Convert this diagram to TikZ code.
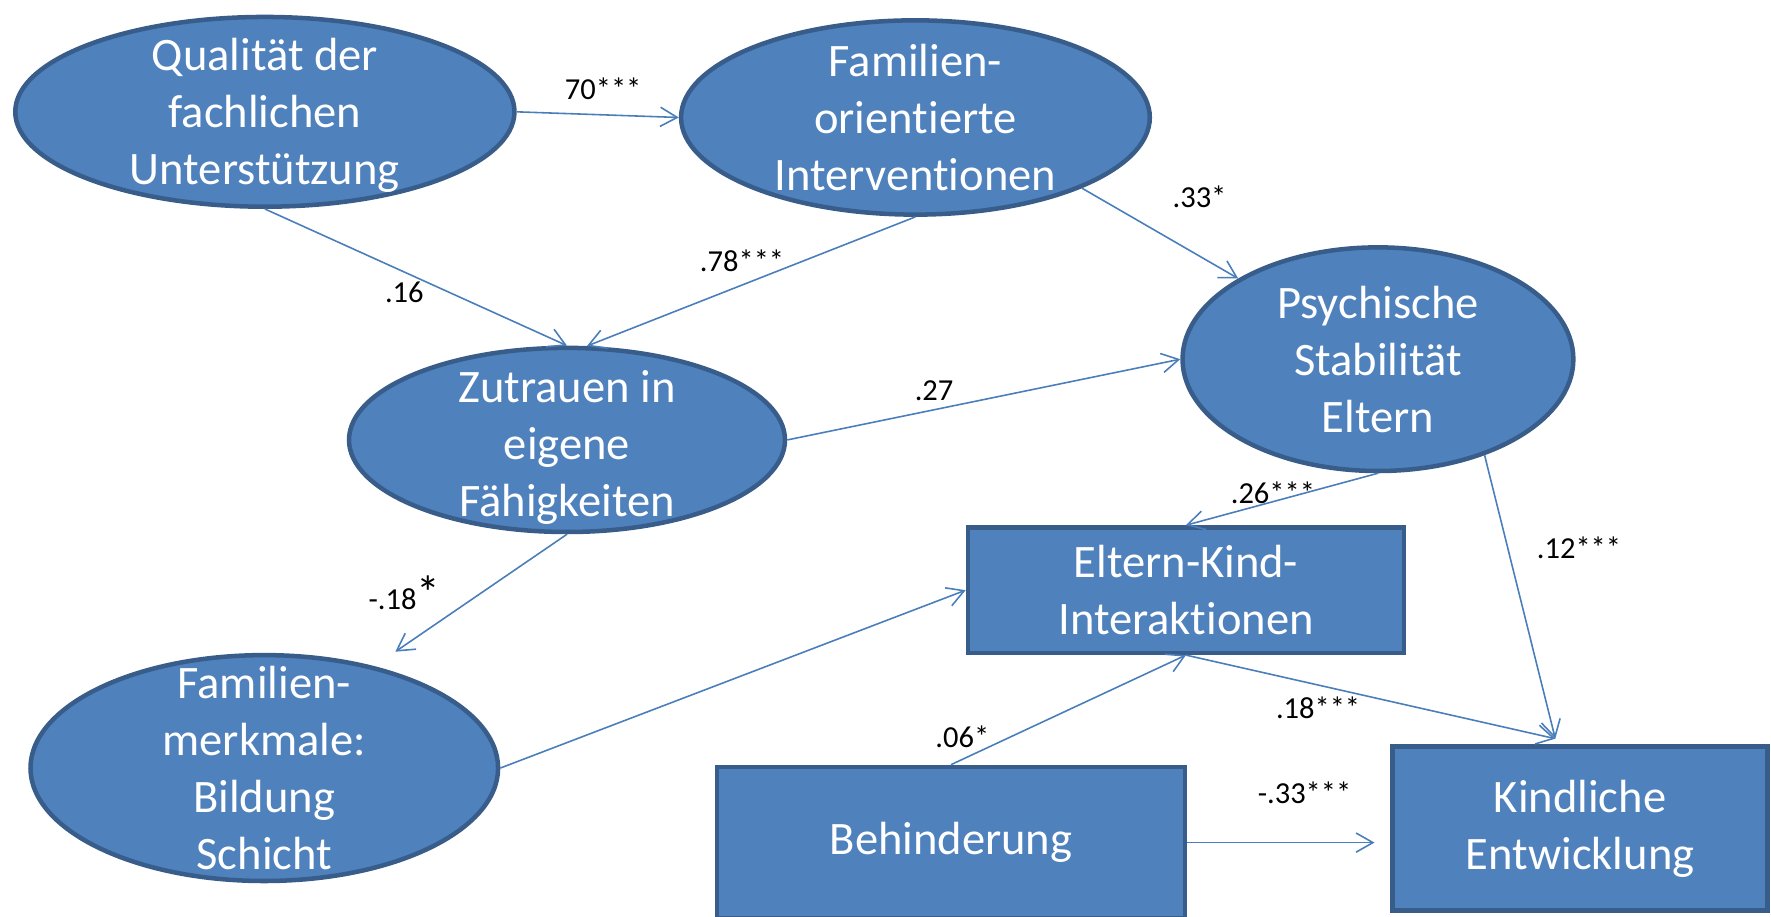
\documentclass[tikz,border=0pt]{standalone}
\usepackage{fontspec}
\setmainfont{Carlito}[Ligatures={NoCommon}]
\usetikzlibrary{arrows.meta,shapes.geometric,calc}
\definecolor{fillblue}{HTML}{4F81BD}
\definecolor{edgeblue}{HTML}{385D8A}
\definecolor{lineblue}{HTML}{4A7EBB}
\begin{document}
\begin{tikzpicture}[x=0.5pt,y=-0.5pt,
  ell/.style={ellipse, draw=edgeblue, fill=fillblue, line width=2pt, inner sep=0pt},
  box/.style={rectangle, draw=edgeblue, fill=fillblue, line width=2pt, inner sep=0pt,
    text=white, align=center, font=\fontsize{20.6}{25.25}\selectfont},
  lab/.style={text=white, align=center, font=\fontsize{20.6}{25.25}\selectfont, inner sep=0pt},
  num/.style={text=black, font=\fontsize{13.5}{16}\selectfont, inner sep=0pt},
  arr/.style={draw=lineblue, line width=0.7pt, -{Straight Barb[length=7.5pt,width=8.5pt]}}
]
\useasboundingbox (0,0) rectangle (1568,811);
\clip (0,0) rectangle (1568,811);

% ellipses
\node[ell, minimum width=221pt, minimum height=84pt] (q) at (234.5,99) {};
\node[lab] (qt) at ($(q)+(0,3)$) {Qualität der\\fachlichen\\Unterstützung};
\node[ell, minimum width=207.5pt, minimum height=86pt] (f) at (810.5,104) {};
\node[lab] (ft) at (f) {Familien-\\orientierte\\Interventionen};
\node[ell, minimum width=173pt, minimum height=99pt] (p) at (1220,318) {};
\node[lab] (pt) at (p) {Psychische\\Stabilität\\Eltern};
\node[ell, minimum width=193pt, minimum height=81.5pt] (z) at (502,389.5) {};
\node[lab] (zt) at ($(z)+(0,7)$) {Zutrauen in\\eigene\\Fähigkeiten};
\node[ell, minimum width=207pt, minimum height=100pt] (fm) at (234,680) {};
\node[lab] (fmt) at (fm) {Familien-\\merkmale:\\Bildung\\Schicht};

% boxes
\node[box, minimum width=193pt, minimum height=55.5pt] (ek) at (1050,522.5) {Eltern-Kind-\\Interaktionen};
\node[box, minimum width=207pt, minimum height=67pt] (bh) at (842,746) {Behinderung};
\node[box, minimum width=166pt, minimum height=72.5pt] (ke) at (1399,733.5) {Kindliche\\Entwicklung};

% free arrow ends
\coordinate (fmin) at (350,577);
\coordinate (kin) at (1377,654);
\coordinate (kein) at (1217,746);

% connectors
\draw[arr] (q.east) -- (f.west);
\draw[arr] (q.south) -- (z.north);
\draw[arr] (f.south) -- (z.78);
\draw[arr] (f.-23) -- (p.150);
\draw[arr] (z.east) -- (p.west);
\draw[arr] (p.south) -- (ek.north);
\draw[arr] (p.-42) -- (kin);
\draw[arr] (z.south) -- (fmin);
\draw[arr] (fm.east) -- (ek.west);
\draw[arr] (bh.north) -- (ek.south);
\draw[arr] (ek.south) -- (kin);
\draw[arr] (bh.east) -- (kein);

% labels
\node[num] (l1) at (534,79) {70***};
\node[num] (l2) at (358,259) {.16};
\node[num] (l3) at (657,231) {.78***};
\node[num] (l4) at (1062,174) {.33*};
\node[num] (l5) at (827,346) {.27};
\node[num] (l6) at (1127,436) {.26***};
\node[num] (l7) at (1398,485) {.12***};
\node[num, anchor=base west] (l8) at (326,540) {-.18{\fontsize{21}{21}\selectfont *}};
\node[num] (l9) at (852,652) {.06*};
\node[num] (l10) at (1167,627) {.18***};
\node[num] (l11) at (1155,702) {-.33***};
\end{tikzpicture}
\end{document}
